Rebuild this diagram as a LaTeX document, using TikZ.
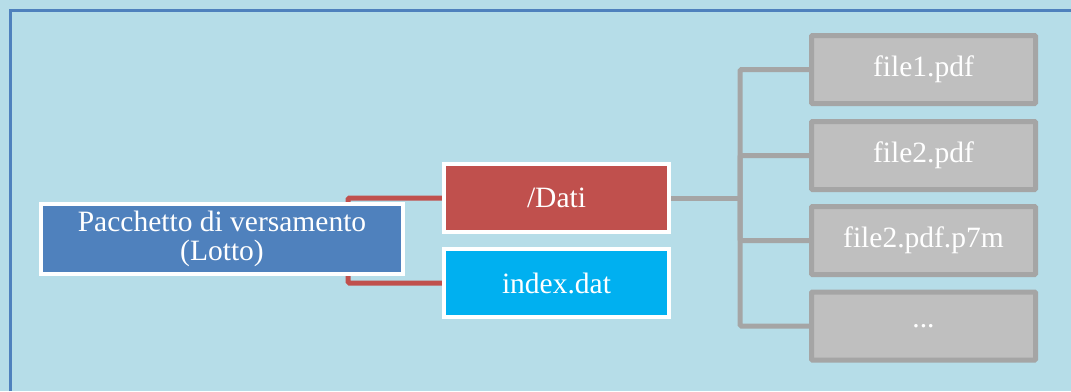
\documentclass[tikz,border=0pt]{standalone}
\usepackage{fontspec}
\setmainfont{Liberation Serif}
\usetikzlibrary{backgrounds}
\definecolor{bgblue}{HTML}{B6DDE8}
\definecolor{frameblue}{HTML}{4F81BD}
\definecolor{pkblue}{HTML}{4F81BD}
\definecolor{datired}{HTML}{C0504D}
\definecolor{idxcyan}{HTML}{00B0F0}
\definecolor{filegray}{HTML}{BFBFBF}
\definecolor{filebord}{HTML}{A5A5A5}
\tikzset{
  x=1pt, y=-1pt,
  box/.style={draw=white, line width=4pt, text=white, align=center,
    font=\fontsize{29.5}{31}\selectfont, inner sep=0pt},
  filebox/.style={draw=filebord, fill=filegray, line width=5pt, text=white,
    rounded corners=1pt, minimum width=224pt, minimum height=68pt,
    font=\fontsize{29.5}{31}\selectfont, inner sep=0pt},
  redline/.style={draw=datired, line width=5pt, rounded corners=1.5pt},
  grayline/.style={draw=filebord, line width=5pt, rounded corners=1.5pt},
}
\begin{document}
\begin{tikzpicture}
\useasboundingbox (0,0) rectangle (1071,391);

\node[box, fill=pkblue, minimum width=362pt, minimum height=70pt] (pk) at (222,239)
  {\raisebox{-3pt}{Pacchetto di versamento}\\[1pt](Lotto)};
\node[box, fill=datired, minimum width=225pt, minimum height=68pt] (dati) at (556.5,198) {/Dati};
\node[box, fill=idxcyan, minimum width=225pt, minimum height=68pt] (idx) at (556.5,283) {index.dat};

\node[filebox] (f1) at (923.5,69.5) {file1.pdf};
\node[filebox] (f2) at (923.5,155.5) {file2.pdf};
\node[filebox] (f3) at (923.5,240.5) {file2.pdf.p7m};
\node[filebox] (f4) at (923.5,326) {...};

\coordinate (rb) at (348,239);
\coordinate (gb) at (740,198);

\begin{scope}[on background layer]
\fill[bgblue] (0,0) rectangle (1071,391);
\draw[frameblue, line width=2.5pt] (10.5,391) -- (10.5,10.5) -- (1071,10.5);
\draw[redline] (dati.west) -| (rb);
\draw[redline] (idx.west) -| (rb);
\end{scope}
\draw[grayline] (dati.east) -- (gb);
\draw[grayline] (f1.west) -| (gb);
\draw[grayline] (f2.west) -| (gb);
\draw[grayline] (f3.west) -| (gb);
\draw[grayline] (f4.west) -| (gb);
\end{tikzpicture}
\end{document}
